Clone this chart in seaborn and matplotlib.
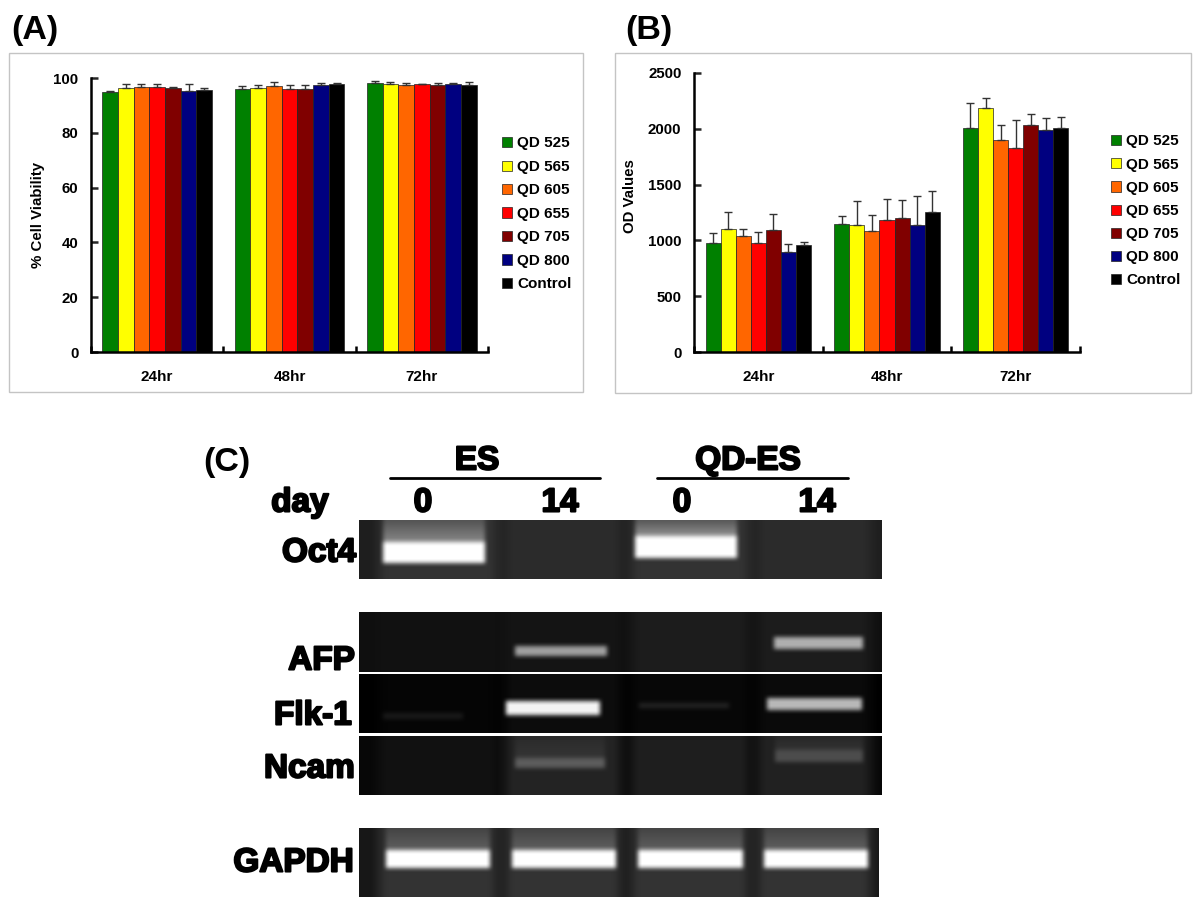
import numpy as np
import pandas as pd
import seaborn as sns
from matplotlib import pyplot as plt
from matplotlib import patheffects as pe
from matplotlib.patches import Rectangle

W, H = 1200, 905

hours = ["24hr", "48hr", "72hr"]
dots = ["QD 525", "QD 565", "QD 605", "QD 655", "QD 705", "QD 800", "Control"]
colours = ["#008000", "#FFFF00", "#FF6600", "#FF0000", "#800000", "#000080", "#000000"]

# one row per time point, one column per dot
viability = [[95.0, 96.5, 96.8, 96.8, 96.4, 95.4, 95.8],
             [96.1, 96.4, 97.0, 96.1, 96.1, 97.5, 97.9],
             [98.2, 97.9, 97.5, 97.8, 97.5, 97.8, 97.6]]
viability_top = [[95.2, 97.8, 97.8, 97.9, 96.6, 97.8, 96.4],
                 [97.1, 97.4, 98.6, 97.4, 97.4, 98.0, 98.1],
                 [98.8, 98.5, 98.2, 97.9, 98.2, 98.0, 98.6]]
od_values = [[975, 1100, 1040, 975, 1095, 900, 960],
             [1145, 1135, 1085, 1180, 1205, 1135, 1255],
             [2005, 2185, 1900, 1830, 2030, 1990, 2010]]
od_top = [[1065, 1250, 1100, 1075, 1235, 970, 985],
          [1215, 1350, 1225, 1375, 1360, 1395, 1440],
          [2230, 2280, 2030, 2080, 2135, 2100, 2110]]

# gel brightness, 0 to 1, per lane
oct4_band = [1.0, 0.0, 1.0, 0.0]
afp_band = [0.0, 0.62, 0.0, 0.68]
flk_band = [0.10, 0.95, 0.14, 0.72]
ncam_band = [0.0, 0.36, 0.0, 0.30]
gapdh_band = [1.0, 1.0, 1.0, 1.0]

oct4_lane = [0.20, 0.17, 0.20, 0.17]
afp_lane = [0.07, 0.08, 0.11, 0.11]
flk_lane = [0.02, 0.05, 0.03, 0.04]
ncam_lane = [0.07, 0.14, 0.12, 0.13]
gapdh_lane = [0.20, 0.20, 0.20, 0.20]

oct4_glow = [0.25, 0.0, 0.28, 0.0]
ncam_glow = [0.0, 0.05, 0.0, 0.05]
gapdh_glow = [0.13, 0.13, 0.13, 0.13]
zero_glow = [0.0, 0.0, 0.0, 0.0]

sns.set_theme(style="white")
plt.rcParams["font.family"] = ["Liberation Sans", "DejaVu Sans"]
plt.rcParams["font.weight"] = "bold"
plt.rcParams["axes.labelweight"] = "bold"
plt.rcParams["text.color"] = "black"
plt.rcParams["axes.labelcolor"] = "black"

fig = plt.figure(figsize=(W / 100, H / 100), dpi=100, facecolor="white")


def px_axes(x0, y0, x1, y1):
    return fig.add_axes([x0 / W, 1 - y1 / H, (x1 - x0) / W, (y1 - y0) / H])


def px_text(x, y, s, **kw):
    kw.setdefault("va", "center")
    return fig.text(x / W, 1 - y / H, s, **kw)


def bar_panel(box, pos, values, tops, ymax, yticks, ylabel, label_x, label_y, width, legend_xy, legend_gap):
    # light frame round each chart, kept behind the axes
    fig.add_artist(Rectangle((box[0] / W, 1 - box[3] / H), (box[2] - box[0]) / W, (box[3] - box[1]) / H,
                             transform=fig.transFigure, fc="white", ec="#c4c4c4", lw=1, zorder=-1))
    ax = px_axes(*pos)
    ax.patch.set_alpha(0)
    df = pd.DataFrame(values, index=hours, columns=dots).reset_index(names="hour").melt("hour", var_name="dot", value_name="value")
    sns.barplot(data=df, x="hour", y="value", hue="dot", palette=colours, width=width, gap=0,
                errorbar=None, edgecolor="#222222", linewidth=0.5, saturation=1, ax=ax)

    # errorbar adds containers of its own, so walk a copy
    for s, bars in enumerate(list(ax.containers)):
        for g, bar in enumerate(bars):
            mid = bar.get_x() + bar.get_width() / 2
            ax.errorbar(mid, values[g][s], yerr=[[0], [tops[g][s] - values[g][s]]], color="#333333",
                        elinewidth=1.0, capsize=2.8, capthick=1.0, zorder=1)

    ax.set_xlim(-0.5, 2.5)
    ax.set_ylim(0, ymax)
    ax.set_yticks(yticks)
    ax.set_xticks([-0.5, 0.5, 1.5, 2.5], ["", "", "", ""])
    ax.set_xticks([0, 1, 2], hours, minor=True)
    ax.tick_params(axis="x", which="major", direction="in", length=4.5, width=1.8, color="black", bottom=True)
    ax.tick_params(axis="x", which="minor", length=0, pad=13.2, labelsize=11, labelcolor="black")
    ax.tick_params(axis="y", direction="in", length=5, width=1.8, left=True, pad=9, labelsize=10.8, labelcolor="black")
    sns.despine(ax=ax)
    for side in ["left", "bottom"]:
        ax.spines[side].set_linewidth(1.8)
        ax.spines[side].set_color("black")
    ax.set_xlabel("")
    ax.set_ylabel(ylabel, fontsize=10.8, color="black")
    ax.yaxis.set_label_coords((label_x - pos[0]) / (pos[2] - pos[0]), (pos[3] - label_y) / (pos[3] - pos[1]))

    lx = (legend_xy[0] - pos[0]) / (pos[2] - pos[0])
    ly = (pos[3] - legend_xy[1]) / (pos[3] - pos[1])
    sns.move_legend(ax, "upper left", bbox_to_anchor=(lx, ly), frameon=False, title=None, fontsize=11,
                    handlelength=0.65, handleheight=0.65, handletextpad=0.33, labelspacing=legend_gap,
                    borderpad=0, borderaxespad=0)
    return ax


bar_panel((9, 53, 583, 392), (91, 78, 488, 352), viability, viability_top, 100, [0, 20, 40, 60, 80, 100],
          "% Cell Viability", 45, 215, 0.83, (502, 136.5), 0.62)
bar_panel((615, 53, 1191, 393), (694, 73, 1080, 352), od_values, od_top, 2500, [0, 500, 1000, 1500, 2000, 2500],
          "OD Values", 637, 196, 0.82, (1111, 134.5), 0.60)

px_text(11, 31, "(A)", fontsize=24.5, color="black")
px_text(625, 31, "(B)", fontsize=24.5, color="black")
px_text(203, 462, "(C)", fontsize=24.5, color="black")

# lane and band geometry of the gels, in pixels inside each gel
lane_edges = [(20, 138), (146, 262), (272, 390), (398, 512)]


def soften(img, size):
    kernel = np.ones(size) / size
    pad = size // 2
    img = np.apply_along_axis(lambda r: np.convolve(np.pad(r, pad, mode="edge"), kernel, "valid"), 1, img)
    return np.apply_along_axis(lambda c: np.convolve(np.pad(c, pad, mode="edge"), kernel, "valid"), 0, img)


def gel(pos, bands, lanes, glows, spans, rows, base):
    x0, y0, x1, y1 = pos
    img = np.full((y1 - y0, x1 - x0), base, dtype=float)
    for (a, b), level in zip(lane_edges, lanes):
        img[:, a:b] = level
    # lane edges fade out more than the bands do
    img = soften(img, 15)
    for (a, b), (top, bottom), amount, glow in zip(spans, rows, bands, glows):
        if glow:
            # haze above a band gets stronger towards the band
            img[:top, a:b] += (glow * np.linspace(0.5, 1.3, top))[:, None]
        if amount:
            img[top:bottom, a:b] = amount
    img = soften(soften(img, 5), 5)
    ax = px_axes(x0, y0, x1, y1)
    sns.heatmap(img, cmap="gray", vmin=0, vmax=1, cbar=False, xticklabels=False, yticklabels=False, ax=ax)


gel((359, 520, 882, 579), oct4_band, oct4_lane, oct4_glow,
    [(24, 126), (150, 250), (276, 378), (400, 500)], [(22, 43), (22, 43), (16, 38), (16, 38)], 0.12)
gel((359, 612, 882, 672), afp_band, afp_lane, zero_glow,
    [(20, 120), (156, 248), (276, 378), (415, 504)], [(34, 44), (34, 44), (25, 37), (25, 37)], 0.06)
gel((359, 674, 882, 733), flk_band, flk_lane, zero_glow,
    [(24, 104), (147, 241), (280, 370), (408, 503)], [(39, 45), (27, 41), (29, 34), (24, 36)], 0.0)
gel((359, 736, 882, 795), ncam_band, ncam_lane, ncam_glow,
    [(24, 104), (156, 246), (280, 370), (416, 504)], [(22, 32), (22, 32), (14, 26), (14, 26)], 0.03)
gel((359, 828, 879, 897), gapdh_band, gapdh_lane, gapdh_glow,
    [(27, 131), (153, 257), (279, 384), (405, 509)], [(22, 40), (22, 40), (22, 40), (22, 40)], 0.09)

# heavy blurred-looking labels above and beside the gels
heavy = [pe.withStroke(linewidth=1.5, foreground="black")]
labels = [(477, 461, "ES", "center"), (748, 461, "QD-ES", "center"), (300, 503, "day", "center"),
          (423, 503, "0", "center"), (560, 503, "14", "center"), (682, 503, "0", "center"), (817, 503, "14", "center"),
          (356, 553, "Oct4", "right"), (355, 661, "AFP", "right"), (352, 716, "Flk-1", "right"),
          (355, 769, "Ncam", "right"), (354, 863, "GAPDH", "right")]
for x, y, s, ha in labels:
    px_text(x, y, s, ha=ha, fontsize=24, color="black", path_effects=heavy)

for a, b in [(390, 600), (657, 848)]:
    fig.add_artist(plt.Line2D([a / W, b / W], [1 - 478 / H, 1 - 478 / H], color="black", lw=2))

fig.savefig("out.png", dpi=100)
